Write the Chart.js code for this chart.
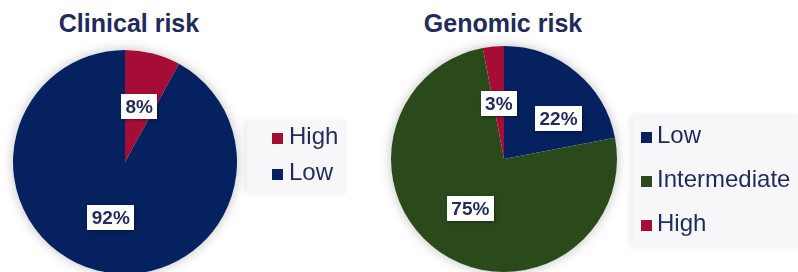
<!DOCTYPE html>
<html>
<head>
<meta charset="utf-8">
<script src="https://cdn.jsdelivr.net/npm/chart.js@4/dist/chart.umd.min.js"></script>
<style>
  html, body { margin:0; padding:0; width:798px; height:272px; overflow:hidden; background:#fff; }
  body { position:relative; font-family:"Liberation Sans", Arial, sans-serif; }
  canvas { position:absolute; top:0; }
  .title { position:absolute; width:240px; text-align:center; font-weight:bold; font-size:25px; line-height:25px; color:#1f2b5b; }
  .legend { position:absolute; background:#f7f7f9; box-shadow:-3px 0 6px rgba(0,0,0,0.07); }
  .mk { position:absolute; width:11px; height:11px; }
  .lt { position:absolute; font-size:24px; line-height:30px; color:#1f2b5b; white-space:nowrap; }
</style>
</head>
<body>
<div class="title" id="t1" style="left:9px; top:11px;"></div>
<div class="title" id="t2" style="left:383px; top:11px;"></div>
<canvas id="c1" width="250" height="300" style="left:0px;"></canvas>
<canvas id="c2" width="250" height="300" style="left:380px;"></canvas>
<div class="legend" id="lg1" style="left:247px; top:120px; width:100px; height:73px;"></div>
<div class="legend" id="lg2" style="left:633px; top:115px; width:165px; height:133px;"></div>
<script>
// ---- data ----
const clinicalTitle = "Clinical risk";
const clinicalLabels = ["High", "Low"];
const clinicalValues = [8, 92];

const genomicTitle = "Genomic risk";
const genomicLabels = ["Low", "Intermediate", "High"];
const genomicValues = [22, 75, 3];

// ---- colours ----
const NAVY = "#06215f", RED = "#a50d36", GREEN = "#2a4a1c", TEXT = "#1f2b5b";
const clinicalColors = [RED, NAVY];
const genomicColors = [NAVY, GREEN, RED];

const shadowPlugin = {
  id: 'pieShadow',
  beforeDatasetsDraw(chart) {
    const arc = chart.getDatasetMeta(0).data[0];
    if (!arc) return;
    const p = arc.getProps(['x','y','outerRadius'], true);
    const ctx = chart.ctx;
    ctx.save();
    ctx.shadowColor = 'rgba(0,0,0,0.25)';
    ctx.shadowBlur = 12;
    ctx.fillStyle = '#ffffff';
    ctx.beginPath();
    ctx.arc(p.x, p.y, p.outerRadius, 0, Math.PI*2);
    ctx.fill();
    ctx.restore();
  }
};

const labelPlugin = {
  id: 'boxLabels',
  afterDatasetsDraw(chart, args, opts) {
    const ctx = chart.ctx;
    const ds = chart.data.datasets[0];
    const total = ds.data.reduce((a,b)=>a+b,0);
    const place = opts.placement || [];
    chart.getDatasetMeta(0).data.forEach((arc, i) => {
      const p = arc.getProps(['x','y','startAngle','endAngle','outerRadius'], true);
      const pl = place[i] || {};
      const mid = (p.startAngle + p.endAngle)/2 + (pl.a || 0) * Math.PI/180;
      const r = p.outerRadius * (pl.r || 0.51);
      const x = p.x + Math.cos(mid)*r, y = p.y + Math.sin(mid)*r;
      const txt = Math.round(ds.data[i]/total*100) + '%';
      ctx.save();
      ctx.font = 'bold 19px "Liberation Sans", Arial, sans-serif';
      const w = ctx.measureText(txt).width + 9, h = 25;
      ctx.shadowColor = 'rgba(0,0,0,0.4)';
      ctx.shadowBlur = 3; ctx.shadowOffsetX = 1; ctx.shadowOffsetY = 1;
      ctx.fillStyle = '#ffffff';
      ctx.fillRect(Math.round(x - w/2), Math.round(y - h/2), Math.round(w), h);
      ctx.shadowColor = 'transparent';
      ctx.fillStyle = TEXT;
      ctx.textAlign = 'center'; ctx.textBaseline = 'middle';
      ctx.fillText(txt, x, y + 1);
      ctx.restore();
    });
  }
};

function makePie(id, labels, values, colors, padding, placement) {
  return new Chart(document.getElementById(id), {
    type: 'pie',
    data: { labels, datasets: [{ data: values, backgroundColor: colors, borderWidth: 0 }] },
    options: {
      responsive: false, animation: false,
      layout: { padding },
      plugins: { legend: { display: false }, tooltip: { enabled: false }, title: { display: false },
                 boxLabels: { placement } }
    },
    plugins: [shadowPlugin, labelPlugin]
  });
}

const ch1 = makePie('c1', clinicalLabels, clinicalValues, clinicalColors,
  { left: 13, right: 13, top: 50, bottom: 26 }, [{ r: 0.51 }, { r: 0.51 }]);
const ch2 = makePie('c2', genomicLabels, genomicValues, genomicColors,
  { left: 11, right: 13, top: 46, bottom: 28 }, [{ r: 0.6, a: 14 }, { r: 0.53 }, { r: 0.49 }]);

document.getElementById('t1').textContent = clinicalTitle;
document.getElementById('t2').textContent = genomicTitle;

function htmlLegend(chart, el, mkX, txtX, firstBase, step) {
  const box = el.getBoundingClientRect();
  const bg = chart.data.datasets[0].backgroundColor;
  chart.data.labels.forEach((lab, i) => {
    const base = firstBase + i*step;
    const mk = document.createElement('div');
    mk.className = 'mk';
    mk.style.background = bg[i];
    mk.style.left = (mkX - box.left) + 'px';
    mk.style.top = (base - 11 - box.top) + 'px';
    el.appendChild(mk);
    const t = document.createElement('div');
    t.className = 'lt';
    t.textContent = lab;
    t.style.left = (txtX - box.left) + 'px';
    t.style.top = (base - 23 - box.top) + 'px';
    el.appendChild(t);
  });
}
htmlLegend(ch1, document.getElementById('lg1'), 272, 289, 144, 36);
htmlLegend(ch2, document.getElementById('lg2'), 641, 657, 143, 44);
</script>
</body>
</html>
